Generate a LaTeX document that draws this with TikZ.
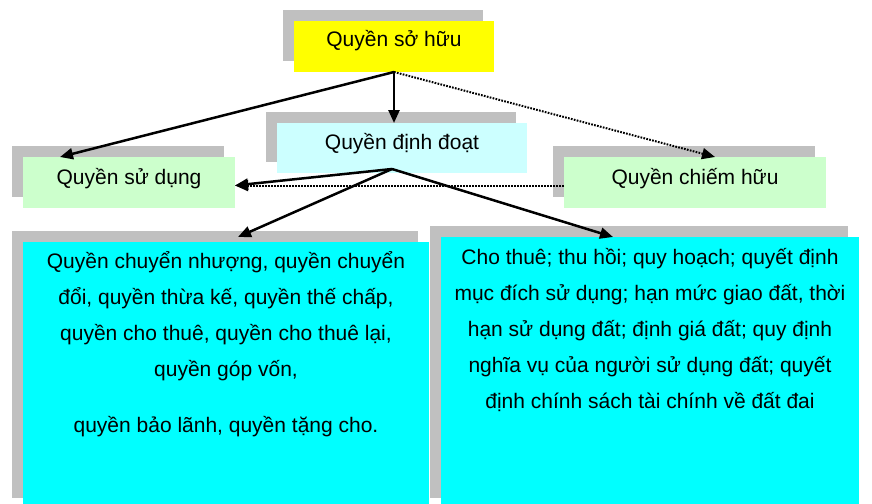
\documentclass[tikz,border=0pt]{standalone}
\usepackage{fontspec}
\setmainfont{Liberation Sans}
\usetikzlibrary{arrows.meta,calc,shadows}
\definecolor{shgray}{HTML}{C0C0C0}
\definecolor{yel}{HTML}{FFFF00}
\definecolor{lcyan}{HTML}{CCFFFF}
\definecolor{lgreen}{HTML}{CCFFCC}
\definecolor{cyn}{HTML}{00FFFF}
\begin{document}
\begin{tikzpicture}[x=1pt,y=-1pt,
  box/.style={draw=none, inner sep=0, outer sep=0,
    drop shadow={shadow xshift=-11pt, shadow yshift=11pt, fill=shgray, opacity=1}},
  txt/.style={inner sep=0, outer sep=0, font=\fontsize{21}{25}\selectfont, anchor=base},
  arr/.style={line width=2.5pt, -{Triangle[length=13pt,width=11pt]}},
  dotline/.style={line width=2pt, dash pattern=on 1.7pt off 1.3pt}
]
\fill[white] (0,0) rectangle (872,503);
\useasboundingbox (0,0) rectangle (872,503);

\node[box, fill=yel, minimum width=200pt, minimum height=51pt] (top) at (394,46.5) {};
\node[box, fill=lcyan, minimum width=250pt, minimum height=50pt] (dd) at (402,148) {};
\node[box, fill=lgreen, minimum width=212pt, minimum height=51pt] (sd) at (129,182.5) {};
\node[box, fill=lgreen, minimum width=262pt, minimum height=51pt] (ch) at (695,182.5) {};
\node[box, fill=cyn, minimum width=406pt, minimum height=267pt] (L) at (226,375.5) {};
\node[box, fill=cyn, minimum width=418pt, minimum height=272pt] (R) at (650,373) {};

\node[txt] (toptxt) at (394,47) {Quyền sở hữu};
\node[txt] (ddtxt) at (402,149) {Quyền định đoạt};
\node[txt] (sdtxt) at (129,184) {Quyền sử dụng};
\node[txt] (chtxt) at (695,184) {Quyền chiếm hữu};
\node[txt] (Ltxt) at (226,268) {\fontsize{21}{36}\selectfont\begin{tabular}[t]{@{}c@{}}
Quyền chuyển nhượng, quyền chuyển\\
đổi, quyền thừa kế, quyền thế chấp,\\
quyền cho thuê, quyền cho thuê lại,\\
quyền góp vốn,\\[20pt]
quyền bảo lãnh, quyền tặng cho.
\end{tabular}};
\node[txt] (Rtxt) at (650,264) {\fontsize{21}{36}\selectfont\begin{tabular}[t]{@{}c@{}}
Cho thuê; thu hồi; quy hoạch; quyết định\\
mục đích sử dụng; hạn mức giao đất, thời\\
hạn sử dụng đất; định giá đất; quy định\\
nghĩa vụ của người sử dụng đất; quyết\\
định chính sách tài chính về đất đai
\end{tabular}};

\draw[arr] (top.south) -- ($(sd.north west)+(37,0)$);
\draw[arr] (top.south) -- (top.south |- dd.north);
\draw[arr, dotline] (top.south) -- ($(ch.north west)+(151,0)$);
\coordinate (ddo) at ($(dd.south)+(-10,-4)$);
\draw[arr, dotline] ($(ch.west)+(0,3)$) -- ($(sd.east)+(0,3)$);
\draw[arr] (ddo) -- ($(sd.east)+(0,3)$);
\draw[arr] (ddo) -- ($(L.north)+(12,-5)$);
\draw[arr] (ddo) -- ($(R.north)+(-37,0)$);
\end{tikzpicture}
\end{document}
